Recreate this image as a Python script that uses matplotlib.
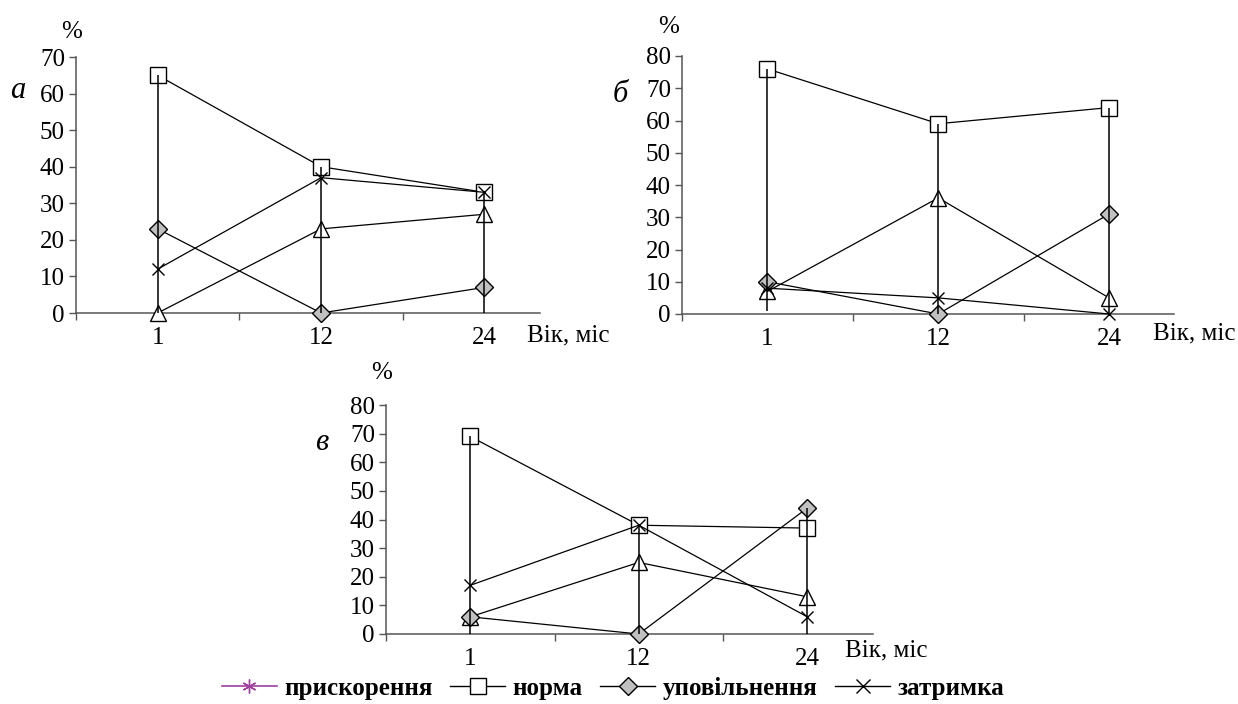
import matplotlib
matplotlib.use("Agg")
import matplotlib.pyplot as plt
from matplotlib.lines import Line2D

plt.rcParams['font.family'] = ['Liberation Serif', 'DejaVu Serif']

ages = ['1', '12', '24']

# panel а
a_norma = [65, 40, 33]
a_upov = [23, 0, 7]
a_zatr = [12, 37, 33]
a_prysk = [0, 23, 27]
a_low = [0, 0, 0]

# panel б
b_norma = [76, 59, 64]
b_upov = [10, 0, 31]
b_zatr = [8, 5, 0]
b_prysk = [7, 36, 5]
b_low = [1, 0, 0]

# panel в
v_norma = [69, 38, 37]
v_upov = [6, 0, 44]
v_zatr = [17, 38, 6]
v_prysk = [6, 25, 13]
v_low = [0, 0, 0]

W, H = 1238, 704
fig = plt.figure(figsize=(W / 100, H / 100), dpi=100)


def px(x0, y0, x1, y1):
    # pixel box -> figure fraction [left, bottom, width, height]
    return [x0 / W, 1 - y1 / H, (x1 - x0) / W, (y1 - y0) / H]


def panel(box, norma, upov, zatr, prysk, low, ymax, right):
    ax = fig.add_axes(px(*box))
    x = range(len(ages))
    hi = [max(v) for v in zip(norma, upov, zatr, prysk)]
    ax.vlines(x, low, hi, color='black', lw=1.1, zorder=5, clip_on=False)
    ax.plot(x, prysk, color='black', lw=0.9, marker='^', ms=12, mfc='white', mec='black', mew=1,
            zorder=3, clip_on=False)
    ax.plot(x, upov, color='black', lw=0.9, marker='D', ms=9.5, mfc='#c0c0c0', mec='black', mew=1,
            zorder=3, clip_on=False)
    ax.plot(x, zatr, color='black', lw=0.9, marker='x', ms=9, mec='black', mew=1,
            zorder=4, clip_on=False)
    ax.plot(x, norma, color='black', lw=0.9, marker='s', ms=12, mfc='white', mec='black', mew=1,
            zorder=3, clip_on=False)
    ax.set_xlim(-0.5, right)
    ax.set_ylim(0, ymax)
    ax.set_yticks(range(0, ymax + 1, 10))
    ax.set_xticks(list(x))
    ax.set_xticklabels(ages)
    ax.set_xticks([-0.5, 0.5, 1.5], minor=True)
    ax.tick_params(axis='x', which='major', length=0, pad=10, labelsize=18)
    ax.tick_params(axis='x', which='minor', length=5, width=1, color='#555555', direction='out')
    ax.tick_params(axis='y', length=5, width=1, color='#555555', pad=3, labelsize=18)
    for s in ['top', 'right']:
        ax.spines[s].set_visible(False)
    for s in ['left', 'bottom']:
        ax.spines[s].set_color('#555555')
        ax.spines[s].set_linewidth(1.1)
    ax.patch.set_alpha(0)
    return ax


panel((76, 57, 540, 313), a_norma, a_upov, a_zatr, a_prysk, a_low, 70, 2.34)
panel((682, 56, 1174, 314), b_norma, b_upov, b_zatr, b_prysk, b_low, 80, 2.38)
panel((386, 405, 873, 634), v_norma, v_upov, v_zatr, v_prysk, v_low, 80, 2.39)


def ftext(x, y, s, **kw):
    fig.text(x / W, 1 - y / H, s, **kw)


ftext(72, 32, '%', fontsize=18, ha='center', va='center')
ftext(669, 27, '%', fontsize=18, ha='center', va='center')
ftext(382, 373, '%', fontsize=18, ha='center', va='center')
ftext(18, 90, 'а', fontsize=22, style='italic', ha='center', va='center')
ftext(620, 95, 'б', fontsize=22, style='italic', ha='center', va='center')
ftext(322, 443, 'в', fontsize=22, style='italic', ha='center', va='center')
ftext(527, 335, 'Вік, міс', fontsize=18, ha='left', va='center')
ftext(1153, 333, 'Вік, міс', fontsize=18, ha='left', va='center')
ftext(845, 650, 'Вік, міс', fontsize=18, ha='left', va='center')

handles = [
    Line2D([], [], color='#a040a0', lw=1.2, marker=(6, 2, 0), ms=10, mec='#a040a0'),
    Line2D([], [], color='black', lw=1, marker='s', ms=12, mfc='white', mec='black'),
    Line2D([], [], color='black', lw=1, marker='D', ms=9, mfc='#c0c0c0', mec='black'),
    Line2D([], [], color='black', lw=1, marker='x', ms=10, mec='black'),
]
labels = ['прискорення', 'норма', 'уповільнення', 'затримка']
fig.legend(handles, labels, loc='center', bbox_to_anchor=(613 / W, 1 - 688 / H), ncol=4,
           frameon=False, prop={'weight': 'bold', 'size': 18}, handlelength=2.2,
           handletextpad=0.3, columnspacing=0.7, borderaxespad=0)

fig.savefig('out.png', dpi=100)
